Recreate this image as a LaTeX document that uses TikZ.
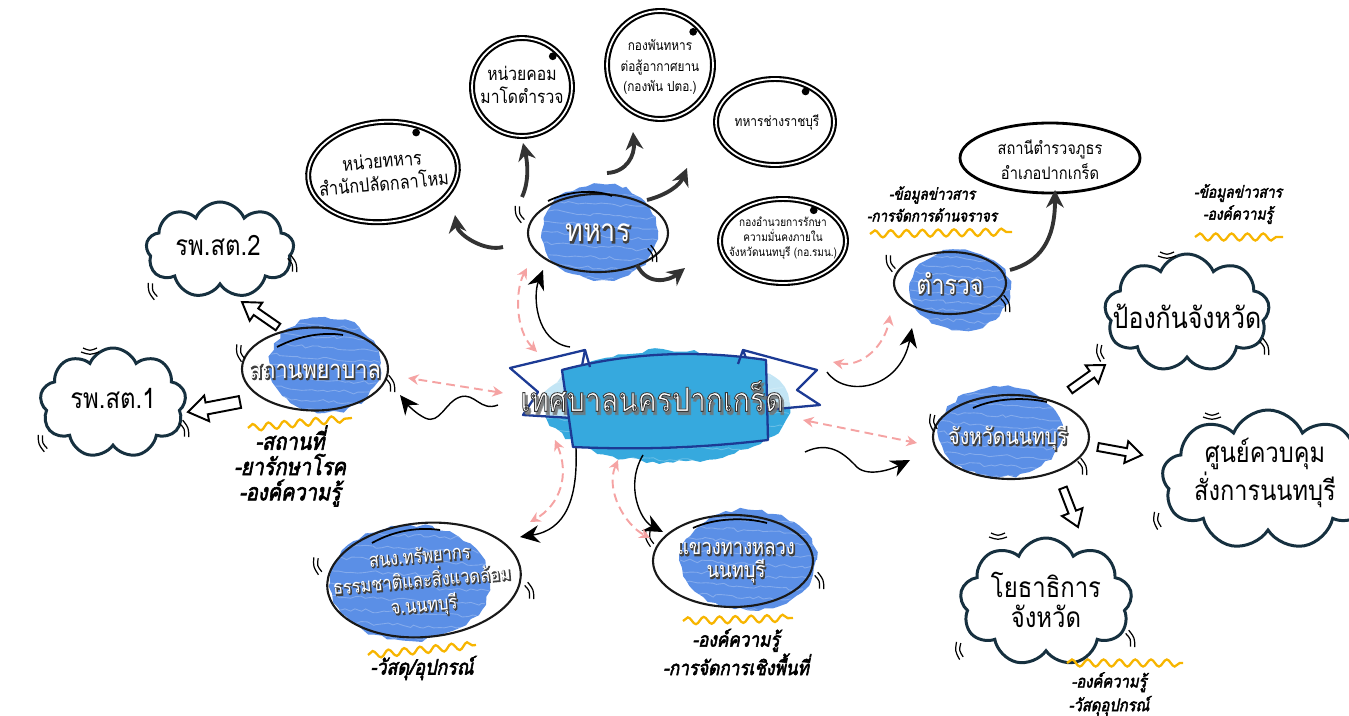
\documentclass[tikz,border=0pt]{standalone}
\usepackage{fontspec}
\newfontfamily\thai[Script=Thai,FakeStretch=0.85]{Loma}
\newfontfamily\thaiol[Script=Thai,FakeStretch=0.85,FakeBold=2.5]{Loma}
\newfontfamily\thaish[Script=Thai,FakeStretch=0.85,FakeBold=5]{Loma}
\newfontfamily\thaisl[Script=Thai,FakeStretch=0.85,FakeSlant=0.2,FakeBold=2.6]{Loma}
\usetikzlibrary{shapes.geometric,shapes.symbols,arrows.meta,decorations.pathmorphing,calc}
\definecolor{blobc}{HTML}{5B8FE6}
\definecolor{hubc}{HTML}{36A9DE}
\definecolor{bandc}{HTML}{1C3A94}
\definecolor{navy}{HTML}{16303F}
\definecolor{pinkc}{HTML}{F5A3A3}
\definecolor{yel}{HTML}{F7B500}
\definecolor{dk}{HTML}{333333}
\newcommand\fsz[2]{\fontsize{#1}{#2}\selectfont}
\newcommand\pxu{0.02cm}
\newcommand\olt[1]{\special{pdf:code 0.22 0.22 0.22 RG}#1}
\newcommand\blobfill[5]{%
  \fill[#5, decorate, decoration={random steps,segment length=4pt,amplitude=1.2pt}] (#1,#2) ellipse [x radius=#3, y radius=#4];
  \begin{scope}
    \clip (#1,#2) ellipse [x radius=#3, y radius=#4];
    \foreach \k in {-4,...,4} {
      \draw[white, opacity=.25, line width=.5pt, decorate, decoration={random steps,segment length=3pt,amplitude=1pt}]
        ($(#1,#2)+(-#3,\k*#4/4.5)$) -- ($(#1,#2)+(#3,\k*#4/4.5+8)$);
    }
  \end{scope}}
\newcommand\mk[3]{\draw[line width=.7pt, shift={(#1,#2)}, rotate=#3] (0,-7) .. controls (3,0) .. (0,7) (4,-9) .. controls (7,0) .. (4,9);}
\newcommand\harrow[7]{%
  \pgfmathsetmacro\hang{atan2(#2-#4,#3-#1)}%
  \pgfmathsetmacro\hlen{veclen(#3-#1,#4-#2)}%
  \draw[line width=1.1pt, fill=white, line join=miter, shift={(#1,#2)}, rotate=\hang]
    (0,-#5) -- (\hlen-#7,-#5) -- (\hlen-#7,-#6) -- (\hlen,0) -- (\hlen-#7,#6) -- (\hlen-#7,#5) -- (0,#5) -- cycle;}
\tikzset{
  ring/.style={ellipse, draw, line width=1.2pt, double, double distance=1pt, inner sep=0pt},
  bring/.style={ellipse, draw=black!90, line width=1.2pt, inner sep=0pt},
  lab/.style={text=white, align=center, inner sep=0pt},
  under/.style={text=black!75, align=center, inner sep=0pt},
  txt/.style={align=center, inner sep=0pt},
  cl/.style={cloud, cloud puffs=9, cloud puff arc=135, draw=navy, line width=1.7pt, inner sep=0pt},
  thickarr/.style={draw=dk, line width=2.2pt, -{Stealth[length=10pt,width=10pt]}},
  thinarr/.style={draw=black, line width=.8pt, -{Stealth[length=11pt,width=10pt]}},
  pinkarr/.style={draw=pinkc, line width=1.1pt, dash pattern=on 5pt off 3pt, {Stealth[length=6pt,width=6pt]}-{Stealth[length=6pt,width=6pt]}},
  yw/.style={draw=yel, line width=1.3pt, decorate, decoration={snake, segment length=9pt, amplitude=2pt}},
  lst/.style={align=center, inner sep=0pt},
}
\begin{document}
\begin{tikzpicture}[x=0.02cm, y=-0.02cm]
\useasboundingbox (0,0) rectangle (1349,716);
\pgfmathsetseed{7}

% ---------- hub ----------
\blobfill{667}{406}{123}{56}{hubc}
\filldraw[draw=bandc, fill=white, fill opacity=.7, line width=1.3pt, line join=round] (585,350) -- (510,368) -- (538,392) -- (523,415) -- (572,418) -- cycle;
\filldraw[draw=bandc, fill=white, fill opacity=.7, line width=1.3pt, line join=round] (743,350) -- (817,370) -- (797,390) -- (820,405) -- (765,410) -- cycle;
\filldraw[draw=bandc, fill=hubc, line width=1.3pt, line join=round] (562,370) .. controls (630,352) and (700,350) .. (766,360) -- (768,440) .. controls (700,448) and (640,450) .. (573,447) -- cycle;
\draw[bandc, line width=1.3pt] (585,350) -- (590,367) (743,350) -- (738,364);
\node[txt, text=black!55, opacity=.7, font=\thaish\fsz{19}{22}] (hubsh) at (654,399) {เทศบาลนครปากเกร็ด};
\node[lab, font=\thaiol\fsz{19}{22}] (hub) at (652,396) {\olt{เทศบาลนครปากเกร็ด}};

% ---------- army ----------
\blobfill{600}{232}{58}{48}{blobc}
\node[bring, minimum width={140*\pxu}, minimum height={78*\pxu}] (army) at (598,233) {};
\node[under, font=\thaish\fsz{18}{20}] (armysh) at (599,234) {ทหาร};
\node[lab, font=\thai\fsz{18}{20}] (armyt) at (598,233) {ทหาร};
\draw[line width=1pt] (548,201) .. controls (568,191) and (595,189) .. (612,196);
\mk{522}{213}{200} \mk{650}{255}{20}

\node[ring, rotate=5, minimum width={150*\pxu}, minimum height={100*\pxu}] (mil1) at (383,172) {};
\node[txt, rotate=5, font=\thai\fsz{10.9}{13}] (mil1t) at (mil1.center) {หน่วยทหาร\\สำนักปลัดกลาโหม};
\node[ring, minimum width={100*\pxu}, minimum height={98*\pxu}] (mil2) at (522,87) {};
\node[txt, font=\thai\fsz{10.5}{13}] (mil2t) at (522,85) {หน่วยคอม\\มาโดตำรวจ};
\node[ring, minimum width={106*\pxu}, minimum height={108*\pxu}] (mil3) at (660,65) {};
\node[txt, font=\thai\fsz{7.9}{11.5}] (mil3t) at (660,67) {กองพันทหาร\\ต่อสู้อากาศยาน\\(กองพัน ปตอ.)};
\node[ring, minimum width={118*\pxu}, minimum height={86*\pxu}] (mil4) at (775,122) {};
\node[txt, font=\thai\fsz{8}{10}] (mil4t) at (777,122) {ทหารช่างราชบุรี};
\node[ring, minimum width={126*\pxu}, minimum height={84*\pxu}] (mil5) at (783,241) {};
\node[txt, font=\thai\fsz{6.7}{8.5}] (mil5t) at (783,238) {กองอำนวยการรักษา\\ความมั่นคงภายใน\\จังหวัดนนทบุรี (กอ.รมน.)};
\foreach \n in {mil1,mil2,mil3,mil4,mil5} { \fill ($(\n.center)!0.86!(\n.45)$) circle [radius=2.2pt]; }

\draw[thickarr] ([shift={(-95,14)}]army.center) .. controls (485,252) and (458,235) .. ([shift={(72,43)}]mil1.center);
\draw[thickarr] ([shift={(-76,-36)}]army.center) .. controls (530,180) and (527,160) .. ([shift={(1,56)}]mil2.center);
\draw[thickarr] ([shift={(9,-60)}]army.center) .. controls (627,172) and (635,155) .. ([shift={(-27,67)}]mil3.center);
\draw[thickarr] ([shift={(49,-33)}]army.center) .. controls (667,195) and (680,185) .. ([shift={(-88,46)}]mil4.center);
\draw[thickarr] ([shift={(39,32)}]army.center) .. controls (648,287) and (670,280) .. ([shift={(-98,27)}]mil5.center);

% ---------- police ----------
\blobfill{960}{290}{50}{40}{blobc}
\node[bring, minimum width={112*\pxu}, minimum height={62*\pxu}] (police) at (950,283) {};
\node[under, font=\thaish\fsz{15.5}{17}] (policesh) at (951,284) {ตำรวจ};
\node[lab, font=\thai\fsz{15.5}{17}] (policet) at (950,283) {ตำรวจ};
\mk{893}{262}{200} \mk{1003}{305}{20}
\node[ellipse, draw, line width=1.6pt, inner sep=0pt, minimum width={180*\pxu}, minimum height={70*\pxu}] (station) at (1050,158) {};
\node[txt, font=\thai\fsz{9.8}{14}] (stationt) at (1050,160) {สถานีตำรวจภูธร\\อำเภอปากเกร็ด};
\draw[thickarr] ([shift={(60,-13)}]police.center) .. controls (1040,262) and (1055,240) .. ([shift={(5,32)}]station.center);
\node[lst, font=\thaisl\fsz{9}{12.5}] (plist) at (932,204) {-ข้อมูลข่าวสาร\\-การจัดการด้านจราจร};
\draw[yw] (870,234) -- (1012,232);
\node[lst, font=\thaisl\fsz{9.2}{12.5}] (rlist) at (1238,204) {-ข้อมูลข่าวสาร\\-องค์ความรู้};
\draw[yw] (1195,237) -- (1283,237);

% ---------- province ----------
\blobfill{1000}{432}{62}{45}{blobc}
\node[bring, minimum width={156*\pxu}, minimum height={84*\pxu}] (prov) at (1011,437) {};
\node[under, font=\thaish\fsz{13}{15}] (provsh) at (1009,439) {จังหวัดนนทบุรี};
\node[lab, font=\thai\fsz{13}{15}] (provt) at (1008,438) {จังหวัดนนทบุรี};
\draw[line width=1pt] (973,408) .. controls (995,398) and (1025,397) .. (1047,402);
\mk{936}{422}{190} \mk{1080}{468}{20}

\node[cl, minimum width={165*\pxu}, minimum height={118*\pxu}] (defense) at (1187,313) {};
\node[txt, font=\thai\fsz{16.7}{19}] (defenset) at (1187,316) {ป้องกันจังหวัด};
\node[cl, minimum width={212*\pxu}, minimum height={140*\pxu}] (command) at (1268,480) {};
\node[txt, font=\thai\fsz{15.8}{18}] (commandt) at (1265,473) {ศูนย์ควบคุม\\สั่งการนนทบุรี};
\node[cl, minimum width={172*\pxu}, minimum height={128*\pxu}] (works) at (1046,602) {};
\node[txt, font=\thai\fsz{16}{17}] (workst) at (1046,600) {โยธาธิการ\\จังหวัด};
\mk{1167}{252}{-90} \mk{1262}{348}{20} \mk{1103}{352}{190}
\mk{1212}{413}{-90} \mk{1160}{520}{190}
\mk{998}{533}{-90} \mk{962}{650}{190} \mk{1128}{640}{20}

\harrow{1070}{390}{1105}{365}{4}{11}{16}
\harrow{1098}{447}{1142}{455}{4}{11}{16}
\harrow{1063}{488}{1078}{527}{4}{11}{16}
\node[lst, font=\thaisl\fsz{9.9}{13.5}] (wlist) at (1109,694) {-องค์ความรู้\\-วัสดุอุปกรณ์};
\draw[yw] (1067,663) -- (1183,663);

% ---------- hospital ----------
\blobfill{325}{365}{55}{48}{blobc}
\node[bring, minimum width={146*\pxu}, minimum height={83*\pxu}] (hosp) at (315,369) {};
\node[under, font=\thaish\fsz{14.5}{16}] (hospsh) at (316,372) {สถานพยาบาล};
\node[lab, font=\thai\fsz{14.5}{16}] (hospt) at (315,371) {สถานพยาบาล};
\draw[line width=1pt] (277,347) .. controls (300,335) and (325,332) .. (343,335);
\mk{243}{352}{195} \mk{388}{385}{20}
\node[cl, minimum width={148*\pxu}, minimum height={96*\pxu}] (hosp2) at (220,250) {};
\node[txt, font=\thai\fsz{16}{18}] (hosp2t) at (218,245) {รพ.สต.2};
\node[cl, minimum width={146*\pxu}, minimum height={110*\pxu}] (hosp1) at (113,403) {};
\node[txt, font=\thai\fsz{16}{18}] (hosp1t) at (113,398) {รพ.สต.1};
\mk{290}{265}{20} \mk{155}{290}{200} \mk{90}{348}{-90} \mk{182}{430}{20} \mk{45}{442}{200}
\harrow{278}{327}{242}{302}{4}{11}{17}
\harrow{240}{402}{188}{412}{6}{13}{19}
\node[lst, font=\thaisl\fsz{13.4}{14.4}] (hlist) at (290,466) {-สถานที่\\-ยารักษาโรค\\-องค์ความรู้};
\draw[yw] (248,428) -- (352,418);

% ---------- environment ----------
\blobfill{410}{583}{80}{58}{blobc}
\node[bring, rotate=5, minimum width={194*\pxu}, minimum height={114*\pxu}] (env) at (424,580) {};
\node[under, rotate=5, font=\thaish\fsz{11}{14}] (envsh) at (423,583) {สนง.ทรัพยากร\\ธรรมชาติและสิ่งแวดล้อม\\จ.นนทบุรี};
\node[lab, rotate=5, font=\thai\fsz{11}{14}] (envt) at (422,582) {สนง.ทรัพยากร\\ธรรมชาติและสิ่งแวดล้อม\\จ.นนทบุรี};
\draw[line width=1pt] (372,543) .. controls (395,530) and (420,527) .. (440,530);
\mk{320}{565}{195} \mk{527}{592}{20}
\node[lst, font=\thaisl\fsz{12}{13}] (elist) at (422,668) {-วัสดุ/อุปกรณ์};
\draw[yw] (368,655) -- (476,645);

% ---------- highway ----------
\blobfill{748}{560}{68}{50}{blobc}
\node[bring, minimum width={160*\pxu}, minimum height={92*\pxu}] (highway) at (733,561) {};
\node[under, font=\thaish\fsz{12.3}{13}] (highwaysh) at (737,564) {แขวงทางหลวง\\นนทบุรี};
\node[lab, font=\thai\fsz{12.3}{13}] (highwayt) at (736,563) {แขวงทางหลวง\\นนทบุรี};
\draw[line width=1pt] (693,528) .. controls (715,518) and (745,517) .. (767,523);
\mk{652}{537}{195} \mk{817}{582}{20}
\node[lst, font=\thaisl\fsz{11.5}{13.5}] (hwlist) at (736,652) {-องค์ความรู้\\-การจัดการเชิงพื้นที่};
\draw[yw] (683,621) -- (793,618);

% ---------- hub connectors ----------
\draw[thinarr] ([shift={(-82,-49)}]hub.center) .. controls (535,342) and (533,295) .. ([shift={(-55,37)}]army.center);
\draw[pinkarr] ([shift={(-115,-44)}]hub.center) .. controls (515,330) and (515,290) .. ([shift={(-71,35)}]army.center);
\draw[thinarr] ([shift={(-154,9)}]hub.center) .. controls (480,412) and (475,392) .. (460,397) .. controls (445,402) and (440,425) .. (425,418) .. controls (415,413) and (408,405) .. ([shift={(85,26)}]hosp.center);
\draw[pinkarr] ([shift={(-149,-3)}]hub.center) -- ([shift={(93,9)}]hosp.center);
\draw[thinarr] ([shift={(175,-24)}]hub.center) .. controls (845,398) and (900,390) .. ([shift={(-38,45)}]police.center);
\draw[pinkarr] ([shift={(181,-34)}]hub.center) .. controls (862,368) and (885,345) .. ([shift={(-60,32)}]police.center);
\draw[pinkarr] ([shift={(151,24)}]hub.center) -- ([shift={(-94,6)}]prov.center);
\draw[thinarr] ([shift={(153,56)}]hub.center) .. controls (830,440) and (845,455) .. (855,465) .. controls (865,478) and (890,470) .. ([shift={(-101,23)}]prov.center);
\draw[thinarr] ([shift={(-76,52)}]hub.center) .. controls (578,500) and (565,530) .. ([shift={(96,-43)}]env.center);
\draw[pinkarr] ([shift={(-97,44)}]hub.center) .. controls (570,475) and (560,505) .. ([shift={(106,-58)}]env.center);
\draw[thinarr] ([shift={(-9,59)}]hub.center) .. controls (625,485) and (640,520) .. ([shift={(-70,-29)}]highway.center);
\draw[pinkarr] ([shift={(-34,64)}]hub.center) .. controls (605,490) and (625,525) .. ([shift={(-83,-23)}]highway.center);
\end{tikzpicture}
\end{document}
